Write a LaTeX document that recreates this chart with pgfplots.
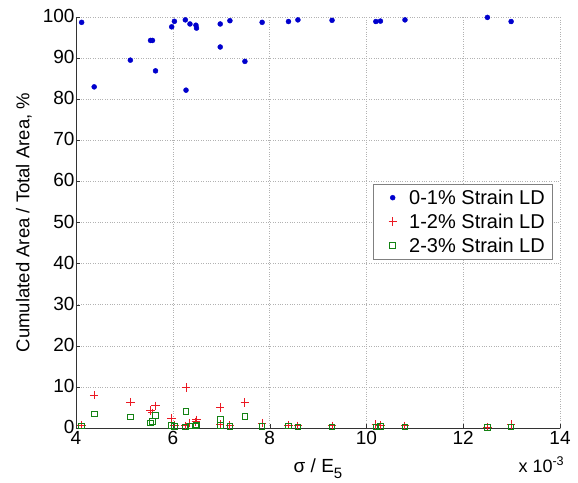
\documentclass[border=0pt]{standalone}
\usepackage{pgfplots}
\pgfplotsset{compat=1.18}
\usepackage{fontspec}
\setmainfont{Liberation Sans}
\definecolor{mblue}{RGB}{0,0,205}
\definecolor{mred}{RGB}{235,25,35}
\definecolor{mgreen}{RGB}{20,130,20}
\begin{document}
\begin{tikzpicture}
\path[use as bounding box] (-76pt,-54pt) rectangle (502pt,428pt);
\begin{axis}[
  at={(0pt,0pt)}, anchor=south west,
  scale only axis,
  width=484pt, height=411pt,
  xmin=4, xmax=14, ymin=0, ymax=100,
  xtick={4,6,...,14}, ytick={0,10,...,100},
  axis x line*=bottom, axis y line*=left,
  axis line style={black!80, line width=0.6pt, -},
  tick align=inside, major tick length=4pt,
  tick style={black!80},
  grid=major,
  grid style={gray!60, dotted, line width=0.6pt},
  font=\fontsize{19}{22}\selectfont,
  /pgf/number format/assume math mode=true,
  tick label style={font=\fontsize{19}{22}\selectfont},
  xticklabel style={yshift=0pt},
  yticklabel style={xshift=2pt, yshift=1pt},
  xlabel={σ / E\raisebox{-6pt}{\fontsize{15}{15}\selectfont 5}},
  ylabel={Cumulated Area / Total Area, \%},
  xlabel style={at={(axis description cs:0.5,0)}, anchor=base, yshift=-44pt},
  ylabel style={at={(axis description cs:-0.1075,0.5)}, anchor=center, font=\fontsize{18.5}{21}\selectfont},
  legend style={at={(0.9835,0.5937)}, anchor=north east, draw=black!50,
    font=\fontsize{20}{23}\selectfont, row sep=4pt, inner xsep=5pt, inner ysep=3.5pt},
  legend cell align=left,
  legend image code/.code={\path (0pt,0pt) (28pt,0pt); \draw[mark repeat=2,mark phase=2,#1] plot coordinates {(0pt,0pt) (14pt,0pt) (28pt,0pt)};},
  clip=false,
]
\addplot[only marks, mark=*, mark size=2.5pt, color=mblue, mark options={fill=mblue, draw=mblue}] coordinates {
(4.117,98.7) (4.376,83.0) (5.123,89.5) (5.54,94.3) (5.58,94.3) (5.643,86.9)
(5.977,97.6) (6.033,98.95) (6.259,99.3) (6.273,82.2) (6.355,98.3) (6.478,98.0)
(6.49,97.3) (6.98,98.3) (6.98,92.7) (7.18,99.1) (7.49,89.2) (7.846,98.7)
(8.39,98.9) (8.585,99.3) (9.29,99.2) (10.195,98.9) (10.29,99.0) (10.797,99.3)
(12.5,99.9) (12.99,98.9)
};
\addlegendentry{0-1\% Strain LD}
\addplot[only marks, mark=+, mark size=4.2pt, line width=1pt, color=mred, mark options={draw=mred, solid}] coordinates {
(4.117,0.7) (4.376,8.0) (5.123,6.3) (5.54,4.3) (5.58,3.7) (5.643,5.4)
(5.977,2.3) (6.033,0.6) (6.259,0.5) (6.273,9.9) (6.355,1.2) (6.478,1.5)
(6.49,2.0) (6.98,0.9) (6.98,5.0) (7.18,0.6) (7.49,6.2) (7.846,1.2)
(8.39,0.7) (8.585,0.5) (9.29,0.5) (10.195,0.9) (10.29,0.6) (10.797,0.5)
(12.5,0.2) (12.99,0.9)
};
\addlegendentry{1-2\% Strain LD}
\addplot[only marks, mark=square, mark size=2.8pt, line width=0.9pt, color=mgreen, mark options={draw=mgreen, solid}] coordinates {
(4.117,0.5) (4.376,3.4) (5.123,2.7) (5.54,1.2) (5.58,1.6) (5.643,3.1)
(5.977,0.6) (6.033,0.4) (6.259,0.3) (6.273,4.1) (6.355,0.5) (6.478,0.5)
(6.49,0.7) (6.98,0.6) (6.98,2.1) (7.18,0.4) (7.49,2.8) (7.846,0.4)
(8.39,0.5) (8.585,0.3) (9.29,0.3) (10.195,0.3) (10.29,0.4) (10.797,0.3)
(12.5,0.1) (12.99,0.3)
};
\addlegendentry{2-3\% Strain LD}
\node[anchor=base west, font=\fontsize{18}{21}\selectfont] at ([yshift=-44pt]axis description cs:0.907,0) {x 10\textsuperscript{-3}};
\end{axis}
\end{tikzpicture}
\end{document}
